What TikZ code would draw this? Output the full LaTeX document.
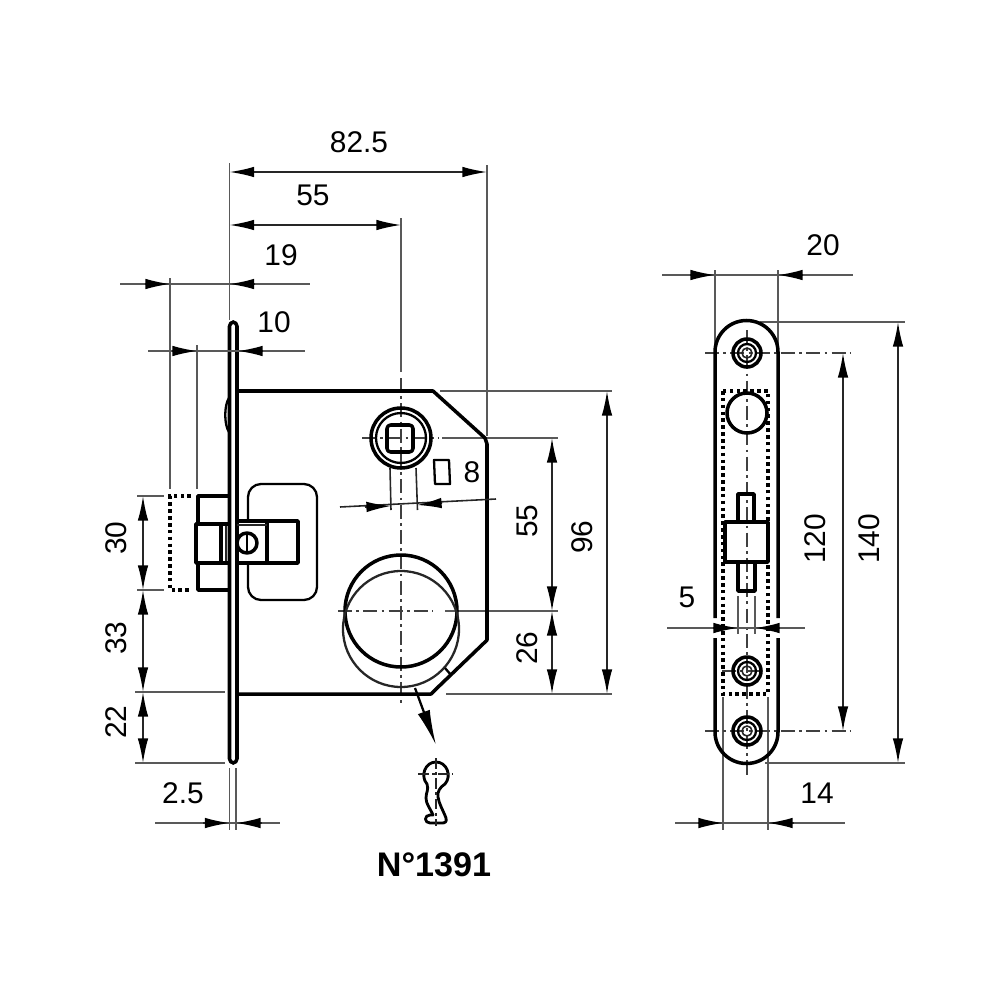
\documentclass[tikz,border=0pt]{standalone}
\usepackage{fontspec}
\setmainfont{Liberation Sans}
\usetikzlibrary{arrows.meta}
\tikzset{
	heavy/.style={line width=1pt, line join=round},
	medium/.style={line width=0.65pt, line join=round},
	fine/.style={line width=0.45pt, black!85},
	extline/.style={line width=0.45pt, black!65},
	dimline/.style={line width=0.45pt, black!85, {Latex[length=7pt,width=3pt,black]}-{Latex[length=7pt,width=3pt,black]}},
	tipline/.style={line width=0.45pt, black!85, -{Latex[length=7pt,width=3pt,black]}},
	centreline/.style={line width=0.45pt, black!75, dash pattern=on 4pt off 1.2pt on 0.8pt off 1.2pt},
	dotline/.style={line width=1pt, dash pattern=on 1pt off 0.95pt},
	dimtext/.style={font=\fontsize{8.5}{10}\selectfont, inner sep=0pt},
	sidetext/.style={dimtext, rotate=90}
}
\begin{document}
\begin{tikzpicture}[x=0.01cm,y=-0.01cm]
	\useasboundingbox (0,0) rectangle (1000,1000);

	% Extension lines, lock
	\draw[extline] (229.5,163) -- (229.5,320);
	\draw[extline] (487,165) -- (487,436);
	\draw[extline] (401,218) -- (401,372);
	\draw[extline] (170,278) -- (170,489);
	\draw[extline] (197,345) -- (197,489);
	\draw[extline] (137,496) -- (164,496);
	\draw[extline] (137,590) -- (164,590);
	\draw[extline] (135,692) -- (225,692);
	\draw[extline] (135,763) -- (225,763);
	\draw[extline] (440,391) -- (612,391);
	\draw[extline] (442,438) -- (558,438);
	\draw[extline] (445,611) -- (558,611);
	\draw[extline] (446,694) -- (612,694);
	\draw[extline] (229.5,768) -- (229.5,830);
	\draw[extline] (236,768) -- (236,830);

	% Centre lines, lock
	\draw[centreline] (401,378) -- (401,705);
	\draw[centreline] (362,438) -- (438,438);
	\draw[centreline] (338,611) -- (433,611);

	% Face plate and case
	\draw[heavy, rounded corners=1.2pt] (229.5,322) rectangle (237,763);
	\draw[medium] (229,398) .. controls (224,405) and (224,425) .. (229,432);
	\draw[heavy] (237,391) -- (433,391) -- (485,438) -- (487,444) -- (487,640) -- (484,643) -- (434,691) -- (431,694) -- (237,694);

	% Follower
	\draw[heavy] (401,438) circle (30);
	\draw[medium] (401,438) circle (25);
	\draw[heavy, rounded corners=1pt] (387,425) rectangle (413,452);
	\draw[fine] (390,468) -- (391,510);
	\draw[fine] (416,468) -- (417.5,510);
	\draw[medium] (434,460) -- (449,460) -- (450,484) -- (435,484) -- cycle;

	% Cylinder hole
	\draw[heavy] (401,611) circle (56);
	\draw[medium, black!85] (401,629) circle (58);
	\draw[medium] (445,668) -- (451,675);

	% Latch bolt
	\draw[dotline] (191,496) -- (170,496) -- (170,590) -- (191,590);
	\draw[heavy] (229,496) -- (198,496) -- (198,524);
	\draw[heavy] (229,590) -- (198,590) -- (198,563);
	\draw[heavy] (229,524) -- (196,524) -- (196,563) -- (229,563);
	\draw[heavy] (221,524) -- (221,563);
	\draw[fine] (226,526) -- (226,561);

	% Latch window and tail
	\draw[medium] (248,521) -- (248,497) arc[start angle=180, end angle=270, radius=13] -- (304,484) arc[start angle=270, end angle=360, radius=13] -- (317,587) arc[start angle=0, end angle=90, radius=13] -- (261,600) arc[start angle=90, end angle=180, radius=13] -- (248,563);
	\draw[heavy] (237,521) -- (298,521) -- (298,563) -- (237,563);
	\draw[heavy] (267,521) -- (267,563);
	\draw[fine] (237,525) -- (267,525);
	\draw[heavy] (247,543) circle (10);
	\draw[medium] (247,533) -- (247,553);

	% Keyhole
	\draw[medium, arrows={-Latex[length=10pt,width=3.6pt,black]}] (415,688) -- (436,745);
	\draw[line width=0.8pt, line join=round] (427,784) .. controls (420,776) and (425,762) .. (436,762) .. controls (447,762) and (452,776) .. (445,784) .. controls (440,787) and (437,792) .. (438,797) .. controls (439,804) and (443,810) .. (446,818) .. controls (447,822) and (445,823) .. (442,823) -- (430,823) .. controls (424,823) and (424,815) .. (430,815) -- (433,815) .. controls (430,808) and (426,804) .. (426,798) .. controls (426,792) and (429,790) .. (427,784) -- cycle;
	\draw[fine, dash pattern=on 3pt off 1pt on 0.8pt off 1pt] (436,758) -- (436,826);
	\draw[fine, dash pattern=on 3pt off 1pt on 0.8pt off 1pt] (418,774) -- (453,774);

	% Dimensions, lock
	\draw[dimline] (229.5,172) -- (487,172);
	\draw[dimline] (229.5,225) -- (401,225);
	\draw[extline] (120,284) -- (310,284);
	\draw[tipline] (145,284) -- (170,284);
	\draw[tipline] (255,284) -- (229.5,284);
	\draw[extline] (148,351) -- (305,351);
	\draw[tipline] (172,351) -- (197,351);
	\draw[tipline] (262,351) -- (238,351);
	\draw[dimline] (143,496) -- (143,590);
	\draw[dimline] (143,590) -- (143,692);
	\draw[dimline] (143,692) -- (143,763);
	\draw[dimline] (552,438) -- (552,611);
	\draw[dimline] (552,611) -- (552,694);
	\draw[dimline] (607,391) -- (607,694);
	\draw[extline] (155,823) -- (280,823);
	\draw[tipline] (203,823) -- (229.5,823);
	\draw[tipline] (262,823) -- (236,823);
	\draw[fine] (340,507) -- (496,499);
	\draw[tipline] (365,507) -- (391,506);
	\draw[tipline] (442,503) -- (417,505);

	\node[dimtext] (lenall) at (359,142) {82.5};
	\node[dimtext] (lenaxis) at (313,195) {55};
	\node[dimtext] (lenbolt) at (281,255) {19};
	\node[dimtext] (lenlatch) at (274,322) {10};
	\node[dimtext] (lensquare) at (472,472) {8};
	\node[sidetext] (hgtbolt) at (116,538) {30};
	\node[sidetext] (hgtmid) at (116,638) {33};
	\node[sidetext] (hgtlow) at (116,722) {22};
	\node[sidetext] (hgtaxis) at (527,521) {55};
	\node[sidetext] (hgthole) at (527,648) {26};
	\node[sidetext] (hgtcase) at (582,537) {96};
	\node[dimtext] (lenplate) at (183,793) {2.5};
	\node[inner sep=0pt, font=\fontsize{9.7}{11}\selectfont\bfseries] (partno) at (434,865) {N°1391};

	% Extension and centre lines, front view
	\draw[extline] (715,270) -- (715,350);
	\draw[extline] (778,270) -- (778,350);
	\draw[extline] (760,322) -- (905,322);
	\draw[extline] (765,763) -- (905,763);
	\draw[extline] (723,697) -- (723,830);
	\draw[extline] (768,697) -- (768,830);
	\draw[extline] (738,596) -- (738,634);
	\draw[extline] (755,596) -- (755,634);
	\draw[centreline] (747,330) -- (747,775);
	\draw[centreline] (705,353) -- (850,353);
	\draw[centreline] (705,731) -- (850,731);
	\draw[centreline] (722,671) -- (772,671);

	% Front plate, broken at the dimension
	\draw[heavy] (715,618) -- (715,352) arc[start angle=180, end angle=360, radius=31.5] -- (778,618);
	\draw[heavy] (715,638) -- (715,732) arc[start angle=180, end angle=0, radius=31.5] -- (778,638);

	% Screws
	\foreach \yscrew in {353,671,731} {
		\draw[heavy] (747,\yscrew) circle (14);
		\draw[medium] (747,\yscrew) circle (9);
		\draw[fine] (747,\yscrew) circle (5);
	}

	% Spindle hole, case outline, bolt
	\draw[heavy] (747,413) circle (20);
	\draw[dotline] (723,391) rectangle (768,694);
	\draw[heavy] (725,522) rectangle (768,562);
	\draw[heavy] (738,522) -- (738,494) -- (754,494) -- (754,522);
	\draw[heavy] (738,562) -- (738,591) -- (755,591) -- (755,562);

	% Dimensions, front view
	\draw[extline] (662,275) -- (853,275);
	\draw[tipline] (690,275) -- (715,275);
	\draw[tipline] (803,275) -- (778,275);
	\draw[extline] (667,628) -- (805,628);
	\draw[tipline] (713,628) -- (738,628);
	\draw[tipline] (780,628) -- (755,628);
	\draw[extline] (675,823) -- (845,823);
	\draw[tipline] (698,823) -- (723,823);
	\draw[tipline] (794,823) -- (768,823);
	\draw[dimline] (843,353) -- (843,731);
	\draw[dimline] (898,322) -- (898,763);

	\node[dimtext] (lenfront) at (823,245) {20};
	\node[dimtext] (lenslot) at (687,597) {5};
	\node[dimtext] (lenholes) at (817,793) {14};
	\node[sidetext] (hgtscrew) at (815,539) {120};
	\node[sidetext] (hgtfront) at (869,539) {140};
\end{tikzpicture}
\end{document}
